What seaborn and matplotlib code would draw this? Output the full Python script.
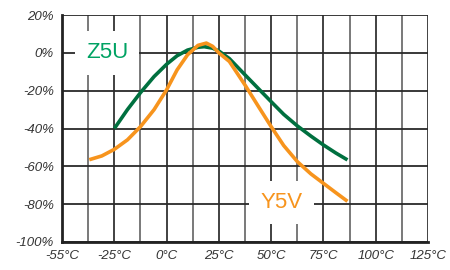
import matplotlib
matplotlib.use("Agg")
import matplotlib.pyplot as plt
import pandas as pd
import seaborn as sns

# temperature (degC) vs capacitance change (%)
z5u_temp = [-25, -18.75, -12.5, -6, 0, 5, 10, 15, 18, 22, 25, 30, 37.5,
            44, 50, 56, 62.5, 69, 75, 81, 86.5]
z5u_change = [-40, -30, -21, -12.5, -6, -1.5, 1.5, 3, 3.3, 2.5, 1, -3, -11.6,
              -19, -25.8, -32.5, -38.6, -44, -48.7, -53, -56.6]

y5v_temp = [-37, -31, -25, -18.75, -12.5, -6, 0, 5, 10, 15, 19, 22, 25, 30,
            37.5, 44, 50, 56, 62.5, 69, 75, 81, 86.5]
y5v_change = [-56.5, -54.5, -51, -46, -39, -30, -19.5, -9, -1, 4, 5.2, 3.5, 0, -4.5,
              -17, -28.5, -39, -49, -57.5, -64, -69, -74, -78.5]

x_ticks = [-50, -25, 0, 25, 50, 75, 100, 125]
x_labels = ["-55°C", "-25°C", "0°C", "25°C", "50°C", "75°C", "100°C", "125°C"]
y_ticks = [20, 0, -20, -40, -60, -80, -100]

GREEN = "#00703f"
GREEN_TXT = "#00a263"
ORANGE = "#f7941d"

sns.set_style("white")
plt.rcParams["font.family"] = ["Liberation Sans", "DejaVu Sans"]

df = pd.concat([
    pd.DataFrame({"temp": z5u_temp, "change": z5u_change, "type": "Z5U"}),
    pd.DataFrame({"temp": y5v_temp, "change": y5v_change, "type": "Y5V"}),
])

fig = plt.figure(figsize=(4.5, 2.7), dpi=100)
ax = fig.add_axes([0.138, 0.104, 0.813, 0.840])

# grid
for i in range(15):
    x = -50 + 12.5 * i
    ax.axvline(x, color="#333333" if i % 2 == 0 else "#6e6e6e", lw=1.3, zorder=1)
for y in y_ticks:
    ax.axhline(y, color="#2a2a2a", lw=1.3, zorder=1)

sns.lineplot(
    data=df,
    x="temp",
    y="change",
    hue="type",
    hue_order=["Z5U", "Y5V"],
    palette={"Z5U": GREEN, "Y5V": ORANGE},
    sort=False,
    estimator=None,
    linewidth=2.6,
    legend=False,
    ax=ax,
    zorder=3,
)
for line in ax.get_lines():
    line.set_solid_capstyle("butt")
    line.set_solid_joinstyle("round")

ax.text(-28.5, 0, "Z5U", color=GREEN_TXT, fontsize=16, ha="center", va="center",
        bbox=dict(facecolor="white", edgecolor="none", boxstyle="square,pad=0.5"), zorder=4)
ax.text(55, -79, "Y5V", color=ORANGE, fontsize=16, ha="center", va="center",
        bbox=dict(facecolor="white", edgecolor="none", boxstyle="square,pad=0.5"), zorder=4)

ax.set_xlim(-50, 125)
ax.set_ylim(-100, 20)
ax.set_xticks(x_ticks)
ax.set_xticklabels(x_labels)
ax.set_yticks(y_ticks)
ax.set_yticklabels([f"{v}%" for v in y_ticks])
ax.tick_params(axis="both", length=0, pad=6, labelsize=9.5, labelcolor="#333333")
for lbl in ax.get_xticklabels() + ax.get_yticklabels():
    lbl.set_fontstyle("italic")
ax.set_xlabel("")
ax.set_ylabel("")

for side in ["top", "right"]:
    ax.spines[side].set_visible(False)
for side in ["left", "bottom"]:
    ax.spines[side].set_color("#222222")
    ax.spines[side].set_linewidth(2)
    ax.spines[side].set_zorder(2)

fig.savefig("out.png", dpi=100)
plt.close(fig)
